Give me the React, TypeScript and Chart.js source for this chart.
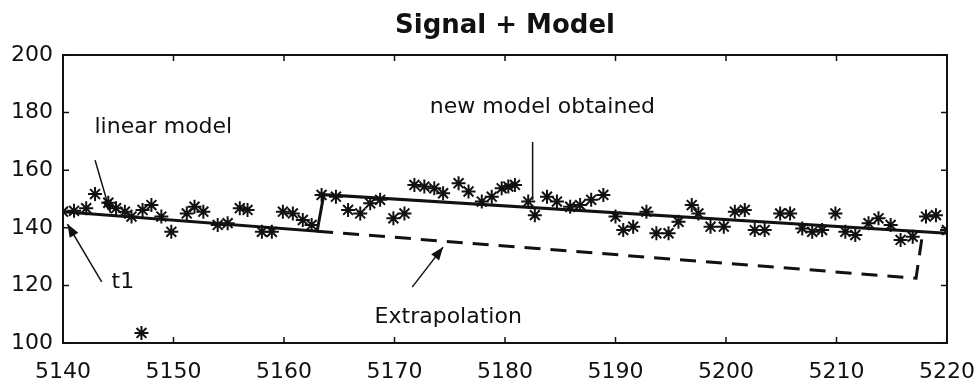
import { useEffect, useRef } from "react";
import { Chart, registerables } from "chart.js";

Chart.register(...registerables);

// Axis ticks
const xTicks = [5140, 5150, 5160, 5170, 5180, 5190, 5200, 5210, 5220];
const yTicks = [100, 120, 140, 160, 180, 200];

// Measured signal samples
const sampleX = [
  5140, 5141, 5142.1, 5142.9, 5144.1, 5144.8, 5145.6, 5146.2, 5147.1, 5147.2,
  5148, 5148.9, 5149.8, 5151.2, 5151.9, 5152.7, 5154, 5154.9, 5156, 5156.7,
  5158, 5158.9, 5159.9, 5160.8, 5161.7, 5162.5, 5163.4, 5164.7, 5165.8, 5166.9,
  5167.8, 5168.7, 5169.9, 5170.9, 5171.8, 5172.7, 5173.6, 5174.4, 5175.8, 5176.7,
  5177.9, 5178.8, 5179.7, 5180.3, 5180.9, 5182.1, 5182.7, 5183.8, 5184.7, 5185.9,
  5186.8, 5187.8, 5188.9, 5190, 5190.7, 5191.6, 5192.8, 5193.7, 5194.8, 5195.7,
  5196.9, 5197.5, 5198.6, 5199.8, 5200.8, 5201.7, 5202.6, 5203.5, 5204.9, 5205.8,
  5206.9, 5207.8, 5208.7, 5209.9, 5210.8, 5211.7, 5212.9, 5213.8, 5214.9, 5215.8,
  5216.9, 5218.1, 5219, 5220,
];
const sampleY = [
  145.6, 145.9, 146.8, 151.7, 148.7, 146.8, 145.6, 143.9, 103.5, 146.2,
  147.9, 143.9, 138.6, 145, 147.3, 145.6, 141, 141.6, 146.8, 146.2,
  138.6, 138.6, 145.6, 145, 142.7, 141, 151.4, 150.8, 146.2, 145,
  148.5, 149.7, 143.3, 145, 154.9, 154.3, 153.7, 152, 155.5, 152.6,
  149.1, 150.8, 153.7, 154.3, 154.9, 149.1, 144.4, 150.8, 149.1, 147.3,
  147.9, 149.7, 151.4, 143.9, 139.2, 140.4, 145.6, 138.1, 138.1, 142.1,
  147.9, 145, 140.4, 140.4, 145.6, 146.2, 139.2, 139.2, 145, 145,
  139.8, 138.6, 139.2, 145, 138.6, 137.5, 141.6, 143.3, 141, 135.8,
  136.9, 143.9, 144.4, 139.2,
];

// Piecewise linear model (first fit, then the re-fitted model)
const modelX = [5140, 5163, 5163.6, 5220];
const modelY = [145.6, 138.8, 151.5, 138.1];

// Extrapolation of the first linear model
const extrapX = [5163, 5217.2, 5217.8];
const extrapY = [138.8, 122.5, 138.3];

const TITLE = "Signal + Model";
const INK = "#111";
const FONT = '"DejaVu Sans", sans-serif';

type Pt = { x: number; y: number };
const pts = (xs: number[], ys: number[]): Pt[] => xs.map((x, i) => ({ x, y: ys[i] }));

// Text notes, anchored at their left-middle point, in data units
const notes = [
  { text: "linear model", x: 5142.85, y: 175 },
  { text: "new model obtained", x: 5173.2, y: 181.9 },
  { text: "t1", x: 5144.4, y: 121.2 },
  { text: "Extrapolation", x: 5168.2, y: 109 },
];

// Pointers from the notes to the curves: [x1, y1, x2, y2, arrowhead]
const pointers: [number, number, number, number, boolean][] = [
  [5142.9, 163.5, 5144.3, 145.1, true],
  [5143.5, 121.2, 5140.4, 141.3, true],
  [5171.6, 119.4, 5174.4, 133.3, true],
  [5182.5, 169.8, 5182.5, 149.7, false],
];

const framePlugin = {
  id: "frame",
  afterDatasetsDraw(chart: any) {
    const { ctx, chartArea: a, scales } = chart;
    const xs = scales.x;
    const ys = scales.y;
    ctx.save();

    // Box around the plot
    ctx.strokeStyle = INK;
    ctx.lineWidth = 2;
    ctx.strokeRect(a.left, a.top, a.right - a.left, a.bottom - a.top);

    // Inward tick marks on all four sides
    const t = 6;
    ctx.lineWidth = 1.5;
    ctx.beginPath();
    for (const v of xTicks) {
      const px = xs.getPixelForValue(v);
      ctx.moveTo(px, a.bottom);
      ctx.lineTo(px, a.bottom - t);
      ctx.moveTo(px, a.top);
      ctx.lineTo(px, a.top + t);
    }
    for (const v of yTicks) {
      const py = ys.getPixelForValue(v);
      ctx.moveTo(a.left, py);
      ctx.lineTo(a.left + t, py);
      ctx.moveTo(a.right, py);
      ctx.lineTo(a.right - t, py);
    }
    ctx.stroke();

    // Pointers
    ctx.fillStyle = INK;
    ctx.lineWidth = 1.5;
    for (const [x1, y1, x2, y2, head] of pointers) {
      const p1x = xs.getPixelForValue(x1);
      const p1y = ys.getPixelForValue(y1);
      const p2x = xs.getPixelForValue(x2);
      const p2y = ys.getPixelForValue(y2);
      ctx.beginPath();
      ctx.moveTo(p1x, p1y);
      ctx.lineTo(p2x, p2y);
      ctx.stroke();
      if (head) {
        const ang = Math.atan2(p2y - p1y, p2x - p1x);
        const L = 13;
        const W = 5;
        ctx.beginPath();
        ctx.moveTo(p2x, p2y);
        ctx.lineTo(
          p2x - L * Math.cos(ang) + W * Math.sin(ang),
          p2y - L * Math.sin(ang) - W * Math.cos(ang)
        );
        ctx.lineTo(
          p2x - L * Math.cos(ang) - W * Math.sin(ang),
          p2y - L * Math.sin(ang) + W * Math.cos(ang)
        );
        ctx.closePath();
        ctx.fill();
      }
    }

    // Notes
    ctx.font = `22px ${FONT}`;
    ctx.textAlign = "left";
    ctx.textBaseline = "middle";
    for (const n of notes) {
      ctx.fillText(n.text, xs.getPixelForValue(n.x), ys.getPixelForValue(n.y));
    }

    // Title
    ctx.font = `bold 26px ${FONT}`;
    ctx.textAlign = "center";
    ctx.fillText(TITLE, (a.left + a.right) / 2, 26);

    ctx.restore();
  },
};

export default function App() {
  const canvasRef = useRef<HTMLCanvasElement | null>(null);

  useEffect(() => {
    const canvas = canvasRef.current;
    if (!canvas) return;
    const chart = new Chart(canvas, {
      type: "scatter",
      data: {
        datasets: [
          {
            label: "signal",
            data: pts(sampleX, sampleY),
            pointStyle: "star",
            pointRadius: 7,
            pointBorderWidth: 2,
            borderColor: INK,
            backgroundColor: INK,
            showLine: false,
          },
          {
            label: "model",
            data: pts(modelX, modelY),
            showLine: true,
            borderColor: INK,
            borderWidth: 3,
            pointRadius: 0,
            tension: 0,
          },
          {
            label: "extrapolation",
            data: pts(extrapX, extrapY),
            showLine: true,
            borderColor: INK,
            borderWidth: 3,
            borderDash: [16, 10],
            pointRadius: 0,
            tension: 0,
          },
        ],
      },
      options: {
        animation: false,
        responsive: false,
        devicePixelRatio: 1,
        events: [],
        layout: { padding: { top: 55, right: 30, bottom: 0, left: 0 } },
        plugins: {
          legend: { display: false },
          title: { display: false },
          tooltip: { enabled: false },
        },
        scales: {
          x: {
            type: "linear",
            min: 5140,
            max: 5220,
            afterBuildTicks: (s: any) => {
              s.ticks = xTicks.map((v) => ({ value: v }));
            },
            afterFit: (s: any) => {
              s.height = 47;
              s.paddingLeft = 0;
              s.paddingRight = 0;
            },
            grid: { display: false, drawTicks: false },
            border: { display: false },
            ticks: {
              color: INK,
              padding: 16,
              maxRotation: 0,
              autoSkip: false,
              font: { family: FONT, size: 22 },
              callback: (v: any) => String(v),
            },
          },
          y: {
            type: "linear",
            min: 100,
            max: 200,
            afterBuildTicks: (s: any) => {
              s.ticks = yTicks.map((v) => ({ value: v }));
            },
            afterFit: (s: any) => {
              s.width = 63;
              s.paddingTop = 0;
              s.paddingBottom = 0;
            },
            grid: { display: false, drawTicks: false },
            border: { display: false },
            ticks: {
              color: INK,
              padding: 10,
              autoSkip: false,
              font: { family: FONT, size: 22 },
              callback: (v: any) => String(v),
            },
          },
        },
      },
      plugins: [framePlugin],
    });
    return () => chart.destroy();
  }, []);

  return (
    <div
      style={{
        position: "absolute",
        left: 0,
        top: 0,
        width: 977,
        height: 390,
        background: "#fff",
      }}
    >
      <canvas ref={canvasRef} width={977} height={390} />
    </div>
  );
}
